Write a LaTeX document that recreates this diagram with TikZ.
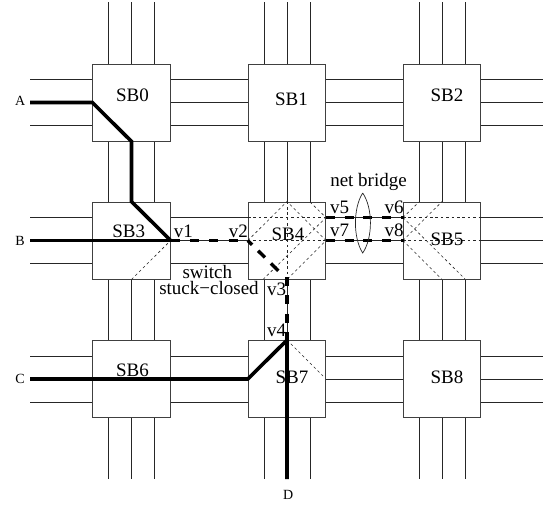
\documentclass[tikz,border=0pt]{standalone}
\usepackage{fontspec}
\setmainfont{Liberation Serif}
\tikzset{
  wire/.style={line width=0.75pt,black!85},
  sbbox/.style={draw=black!75,fill=white,line width=0.85pt,minimum width=77.5pt,minimum height=77pt,inner sep=0pt},
  net/.style={line width=3.6pt,black,line cap=butt,line join=miter},
  bad/.style={line width=3.4pt,black,line cap=butt},
  dot/.style={line width=0.6pt,black!85,dash pattern=on 2.6pt off 2.8pt},
  lab/.style={font=\fontsize{19}{19}\selectfont,inner sep=0pt,anchor=base},
  pin/.style={font=\fontsize{14}{14}\selectfont,inner sep=0pt,anchor=base}
}
\begin{document}
\begin{tikzpicture}[x=1pt,y=-1pt]
\useasboundingbox (0,0) rectangle (548,504);
% routing tracks
\foreach \x in {131.5,287,442}{
  \foreach \d in {-23,0,23}{
    \draw[wire] (\x+\d,2) -- (\x+\d,479);
  }
}
\foreach \y in {102.5,240.5,379}{
  \foreach \d in {-23,0,23}{
    \draw[wire] (30,\y+\d) -- (543,\y+\d);
  }
}
% switch boxes
\node[sbbox] (sb0) at (131.5,102.5) {};
\node[sbbox] (sb1) at (287,102.5) {};
\node[sbbox] (sb2) at (442,102.5) {};
\node[sbbox] (sb3) at (131.5,240.5) {};
\node[sbbox] (sb4) at (287,240.5) {};
\node[sbbox] (sb5) at (442,240.5) {};
\node[sbbox] (sb6) at (131.5,379) {};
\node[sbbox] (sb7) at (287,379) {};
\node[sbbox] (sb8) at (442,379) {};
% switch-box points
\coordinate (a0) at (30,102.5);
\coordinate (b0) at (30,240.5);
\coordinate (c0) at (30,379);
\coordinate (d0) at (287,479);
\coordinate (v1p) at (sb3.east);
\coordinate (v2p) at (sb4.west);
\coordinate (v3p) at (sb4.south);
\coordinate (v4p) at (sb7.north);
\coordinate (v5p) at (326,217.5);
\coordinate (v6p) at (404,217.5);
\coordinate (v7p) at (326,240.5);
\coordinate (v8p) at (404,240.5);
% dotted internal switches
\draw[dot] (sb3.south) -- (sb3.east);
\draw[dot] (248,217.5) -- (v5p);
\draw[dot] (v2p) -- (v7p);
\draw[dot] (sb4.north) -- (v3p);
\draw[dot] (v2p) -- (sb4.north) -- (v7p) -- (v3p);
\draw[dot] (310,202) -- (v5p) -- (263.5,279);
\draw[dot] (403,217.5) -- (481,217.5);
\draw[dot] (403,240.5) -- (481,240.5);
\draw[dot] (403,217.5) -- (419,202);
\draw[dot] (403,240.5) -- (sb5.north);
\draw[dot] (403,217.5) -- (465,279);
\draw[dot] (403,240.5) -- (sb5.south);
\draw[dot] (sb7.north) -- (323,376);
% labels
\node[lab] (l0) at (132.5,101.7) {SB0};
\node[lab] (l1) at (291.5,105.7) {SB1};
\node[lab] (l2) at (447,101.7) {SB2};
\node[lab] (l3) at (128.7,237.3) {SB3};
\node[lab] (l4) at (288,240.7) {SB4};
\node[lab] (l5) at (447,245) {SB5};
\node[lab] (l6) at (132.5,376) {SB6};
\node[lab] (l7) at (292,383.3) {SB7};
\node[lab] (l8) at (447,383.3) {SB8};
% nets
\draw[net] (a0) -- (sb0.west) -- (sb0.south) -- (sb3.north) -- (v1p);
\draw[net] (b0) -- (v1p);
\draw[net] (c0) -- (sb7.west) -- (v4p) -- (d0);
% faulty (dashed) paths
\draw[bad,dash pattern=on 9pt off 10.3pt] (v1p) -- (v2p);
\draw[bad,dash pattern=on 6pt off 8.6pt on 9.4pt off 8.5pt on 10.5pt off 40pt] (v2p) -- (v3p);
\draw[bad,dash pattern=on 9pt off 9.3pt] (287,277) -- (v4p);
\draw[bad,dash pattern=on 9pt off 9.7pt] (v5p) -- (v6p);
\draw[bad,dash pattern=on 9pt off 9.7pt] (v7p) -- (v8p);
% net bridge lens
\coordinate (lt) at (362.7,193);
\coordinate (lb) at (362.7,253);
\draw[line width=0.7pt,black!85] (lt) .. controls (353,208) and (353,238) .. (lb)
  .. controls (373,238) and (373,208) .. (lt);
% point labels
\node[lab] (v1) at (183.3,237) {v1};
\node[lab] (v2) at (238.3,237) {v2};
\node[lab] (v3) at (276.5,295) {v3};
\node[lab] (v4) at (276.5,336.7) {v4};
\node[lab] (v5) at (339.5,213.3) {v5};
\node[lab] (v6) at (394,213.3) {v6};
\node[lab] (v7) at (339.5,236.7) {v7};
\node[lab] (v8) at (394,236.7) {v8};
\node[lab] (nb) at (368.5,186.7) {net bridge};
\node[lab] (sw) at (207.3,278.7) {switch};
\node[lab] (sc) at (209,294.7) {stuck−closed};
\node[pin] (A) at (20.3,105.7) {A};
\node[pin] (B) at (20,245) {B};
\node[pin] (C) at (20,383) {C};
\node[pin] (D) at (288.3,499) {D};
\end{tikzpicture}
\end{document}
